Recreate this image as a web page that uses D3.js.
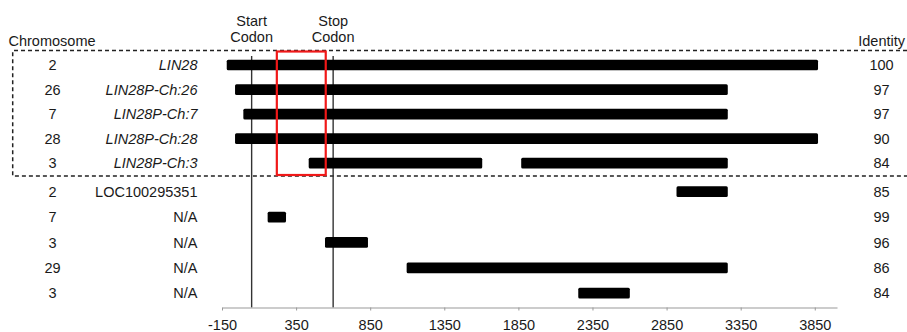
<!DOCTYPE html>
<html>
<head>
<meta charset="utf-8">
<script src="https://cdn.jsdelivr.net/npm/d3@7"></script>
<style>
  html, body { margin: 0; padding: 0; background: #fff; }
  svg { display: block; font-family: "Liberation Sans", Arial, sans-serif; }
</style>
</head>
<body>
<svg id="chart" width="907" height="332"></svg>
<script>
// ---- Data ----
const chromosomes = ["2", "26", "7", "28", "3", "2", "7", "3", "29", "3"];
const geneNames = ["LIN28", "LIN28P-Ch:26", "LIN28P-Ch:7", "LIN28P-Ch:28", "LIN28P-Ch:3",
                   "LOC100295351", "N/A", "N/A", "N/A", "N/A"];
const italicNames = [true, true, true, true, true, false, false, false, false, false];
const identity = [100, 97, 97, 90, 84, 85, 99, 96, 86, 84];

// alignment segments (row index, start, end)
const segRow   = [0, 1, 2, 3, 4, 4, 5, 6, 7, 8, 9];
const segStart = [-118, -62, -6, -62, 435, 1869, 2917, 158, 545, 1096, 2254];
const segEnd   = [3872, 3263, 3263, 3872, 1606, 3263, 3263, 282, 835, 3263, 2602];

const tickValues = [-150, 350, 850, 1350, 1850, 2350, 2850, 3350, 3850];
const startCodon = 50;
const stopCodon = 600;
const orfRegion = [220, 550];

// ---- Scales ----
const svg = d3.select("#chart");
const x = d3.scaleLinear().domain([-150, 4000]).range([222, 837]);
const y = d3.scaleLinear().domain([0, 4, 5, 9]).range([65, 163.2, 191.7, 293.2]);
const axisY = 307.5;
const barH = 10.7;
const textColor = "#1a1a1a";
const fs = "14.5px";

// ---- Dashed box around LIN28 + pseudogenes ----
const boxTop = 50.5, boxBottom = 176, boxLeft = 12.7;
svg.append("path")
  .attr("d", `M907,${boxTop} H${boxLeft} V${boxBottom} H907`)
  .attr("fill", "none")
  .attr("stroke", "#222")
  .attr("stroke-width", 1.5)
  .attr("stroke-dasharray", "4,3");

// ---- Codon lines ----
[startCodon, stopCodon].forEach(v => {
  svg.append("line")
    .attr("x1", x(v)).attr("x2", x(v))
    .attr("y1", 56).attr("y2", axisY)
    .attr("stroke", "#333").attr("stroke-width", 1.4);
});

// ---- Bars ----
svg.append("g").selectAll("rect")
  .data(segRow.map((r, i) => ({ r, s: segStart[i], e: segEnd[i] })))
  .join("rect")
  .attr("x", d => x(d.s))
  .attr("width", d => x(d.e) - x(d.s))
  .attr("y", d => y(d.r) - barH / 2)
  .attr("height", barH)
  .attr("rx", 1.5).attr("ry", 1.5)
  .attr("fill", "#000");

// ---- Red ORF box ----
svg.append("rect")
  .attr("x", x(orfRegion[0]))
  .attr("width", x(orfRegion[1]) - x(orfRegion[0]))
  .attr("y", 51.5)
  .attr("height", 175 - 51.5)
  .attr("fill", "none")
  .attr("stroke", "#f01818")
  .attr("stroke-width", 2.2);

// ---- Row labels ----
const rows = d3.range(chromosomes.length);
svg.append("g").selectAll("text")
  .data(rows).join("text")
  .attr("x", 52.5).attr("y", d => y(d) + 5.2)
  .attr("text-anchor", "middle")
  .attr("font-size", fs).attr("fill", textColor)
  .text(d => chromosomes[d]);

svg.append("g").selectAll("text")
  .data(rows).join("text")
  .attr("x", 197.5).attr("y", d => y(d) + 5.2)
  .attr("text-anchor", "end")
  .attr("font-size", fs).attr("fill", textColor)
  .attr("font-style", d => italicNames[d] ? "italic" : "normal")
  .text(d => geneNames[d]);

svg.append("g").selectAll("text")
  .data(rows).join("text")
  .attr("x", 881.5).attr("y", d => y(d) + 5.2)
  .attr("text-anchor", "middle")
  .attr("font-size", fs).attr("fill", textColor)
  .text(d => identity[d]);

// ---- Headers ----
svg.append("text").attr("x", 8.5).attr("y", 46)
  .attr("font-size", fs).attr("fill", textColor).text("Chromosome");
svg.append("text").attr("x", 905).attr("y", 45.5).attr("text-anchor", "end")
  .attr("font-size", fs).attr("fill", textColor).text("Identity");

[[startCodon, "Start"], [stopCodon, "Stop"]].forEach(([v, w]) => {
  const t = svg.append("text").attr("x", x(v)).attr("text-anchor", "middle")
    .attr("font-size", fs).attr("fill", textColor);
  t.append("tspan").attr("x", x(v)).attr("y", 26).text(w);
  t.append("tspan").attr("x", x(v)).attr("y", 41.5).text("Codon");
});

// ---- X axis ----
const axis = d3.axisBottom(x).tickValues(tickValues).tickSize(3).tickSizeOuter(0)
  .tickFormat(d => String(d));
const gx = svg.append("g").attr("transform", `translate(0,${axisY})`).call(axis);
gx.select(".domain").attr("stroke", "#999").attr("stroke-width", 1.2);
gx.selectAll(".tick line").attr("stroke", "#999");
gx.selectAll(".tick text")
  .attr("font-size", fs).attr("font-family", "Liberation Sans, Arial, sans-serif")
  .attr("fill", textColor).attr("dy", 0).attr("y", 22);
</script>
</body>
</html>
